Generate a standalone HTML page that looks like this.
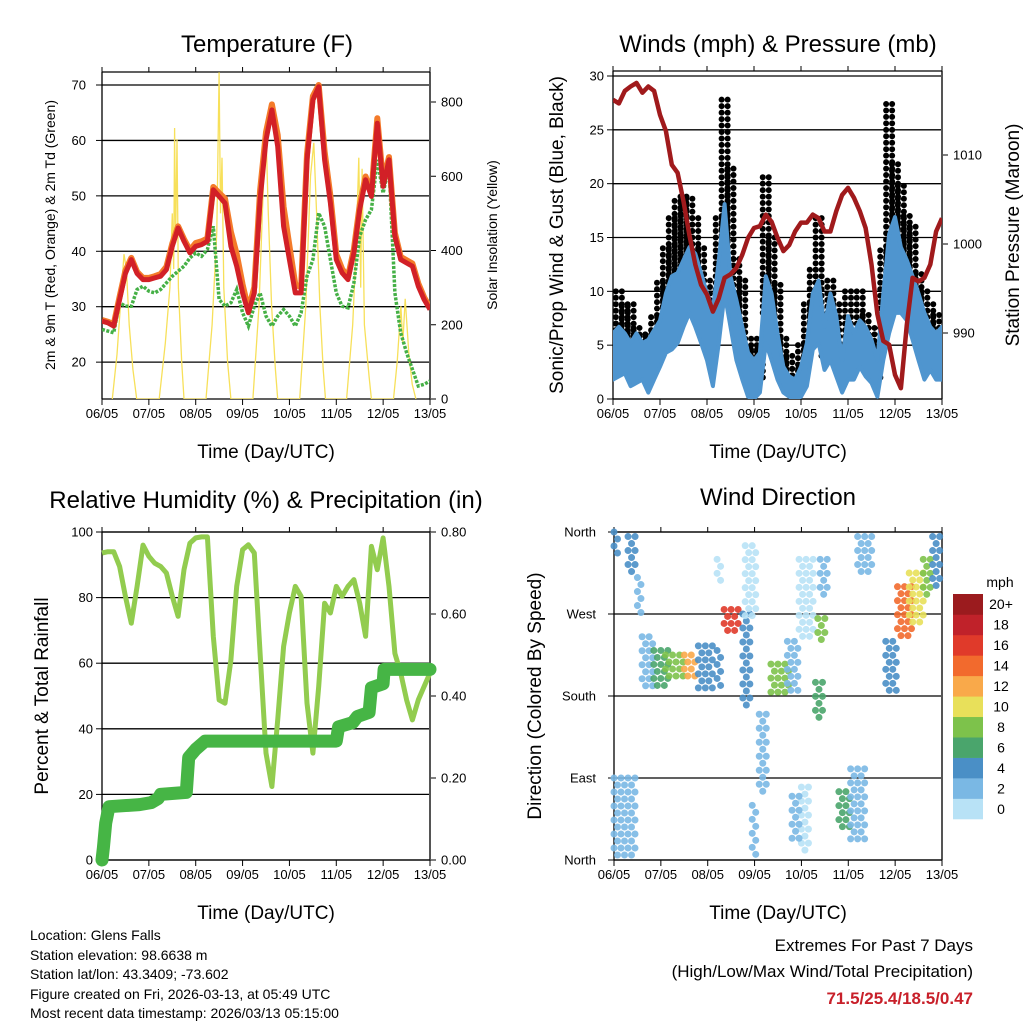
<!DOCTYPE html>
<html><head><meta charset="utf-8"><style>
body{margin:0;background:#fff;width:1024px;height:1024px;overflow:hidden;font-family:"Liberation Sans",sans-serif}
svg text{font-family:"Liberation Sans",sans-serif;fill:#000}
</style></head><body>
<svg id="s" width="1024" height="1024" viewBox="0 0 1024 1024" xmlns="http://www.w3.org/2000/svg">
<text x="267" y="52" font-size="24" text-anchor="middle">Temperature (F)</text>
<text x="778" y="52" font-size="24" text-anchor="middle">Winds (mph) &amp; Pressure (mb)</text>
<text x="266" y="508" font-size="24" text-anchor="middle">Relative Humidity (%) &amp; Precipitation (in)</text>
<text x="778" y="505" font-size="24" text-anchor="middle">Wind Direction</text>
<text x="266" y="458" font-size="19" text-anchor="middle">Time (Day/UTC)</text>
<text x="778" y="458" font-size="19" text-anchor="middle">Time (Day/UTC)</text>
<text x="266" y="919" font-size="19" text-anchor="middle">Time (Day/UTC)</text>
<text x="778" y="919" font-size="19" text-anchor="middle">Time (Day/UTC)</text>
<text transform="translate(55,235) rotate(-90)" font-size="14" text-anchor="middle">2m &amp; 9m T (Red, Orange) &amp; 2m Td (Green)</text>
<text transform="translate(497,235) rotate(-90)" font-size="14" text-anchor="middle">Solar Insolation (Yellow)</text>
<text transform="translate(563,235) rotate(-90)" font-size="19" text-anchor="middle">Sonic/Prop Wind &amp; Gust (Blue, Black)</text>
<text transform="translate(1019,235) rotate(-90)" font-size="19" text-anchor="middle">Station Pressure (Maroon)</text>
<text transform="translate(48,696) rotate(-90)" font-size="19" text-anchor="middle">Percent &amp; Total Rainfall</text>
<text transform="translate(541,696) rotate(-90)" font-size="19" text-anchor="middle">Direction (Colored By Speed)</text>
<g font-size="14">
<text x="30" y="940">Location: Glens Falls</text>
<text x="30" y="960">Station elevation: 98.6638 m</text>
<text x="30" y="979">Station lat/lon: 43.3409; -73.602</text>
<text x="30" y="999">Figure created on Fri, 2026-03-13, at 05:49 UTC</text>
<text x="30" y="1018">Most recent data timestamp: 2026/03/13 05:15:00</text>
</g>
<text x="973" y="951" font-size="17" text-anchor="end">Extremes For Past 7 Days</text>
<text x="973" y="977" font-size="17" text-anchor="end">(High/Low/Max Wind/Total Precipitation)</text>
<text x="973" y="1004" font-size="17" font-weight="bold" text-anchor="end" style="fill:#c8202a">71.5/25.4/18.5/0.47</text>
<text x="1000" y="587" font-size="14" text-anchor="middle">mph</text>
</svg>
<script>
const days=["06/05","07/05","08/05","09/05","10/05","11/05","12/05","13/05"];
const tempRed=[27.4,27.1,26.5,31.3,36,38.5,36,34.9,34.9,35.2,35.5,36.7,40.9,44.2,41.8,39.7,40.9,41.2,41.8,51.1,49.9,48.7,40.9,37.3,32.5,28.9,32.5,49.3,60.1,65.5,58.9,44.5,38.5,32.5,32.5,56.5,67.3,69.7,56.5,48.7,38.5,36.1,34.9,39.7,47.5,52.9,49.9,63.1,51.7,56.5,42.7,38.5,37.9,37.3,33.7,31.3,29.5];
const tempOrange=[27.6,27.3,26.8,31.8,36.5,38.8,36.3,35.2,35.2,35.5,35.9,37.2,41.4,44.5,42.2,40.2,41.5,41.8,42.3,51.6,50.5,49.5,43.5,39.5,34,29.5,33.5,51,61.5,66.5,61,48,41,34,33.5,57.5,68,70,58,50,39.5,36.8,35.4,40.4,48.3,53.5,50.5,64,52.5,57,43.3,39,38.4,37.8,34.2,31.7,29.8];
const tempDew=[25.9,25.6,25.3,30.7,30.1,30.1,33.1,33.7,32.8,32.5,33.1,34.3,35.5,36.4,37.3,38.8,39.7,39.1,40.3,44.5,31.3,30.1,30.7,33.1,28.9,26.5,30.1,32.5,28.3,26.5,28.3,29.5,28.3,26.5,28.9,35.5,38.5,46.9,44.5,38.5,32.5,30.1,29.8,34.3,42.7,45.7,47.5,56.5,50.5,55.3,32.5,25.3,21.7,18.7,15.7,16,16.6];
const solarT=[0.22,0.32,0.42,0.47,0.52,0.58,0.66,0.74,1.22,1.35,1.45,1.5,1.53,1.55,1.57,1.6,1.63,1.7,1.75,2.22,2.35,2.45,2.5,2.53,2.56,2.6,2.68,2.75,3.22,3.35,3.45,3.5,3.55,3.62,3.7,3.75,4.22,4.35,4.45,4.52,4.58,4.65,4.72,4.77,5.22,5.35,5.42,5.48,5.52,5.55,5.6,5.7,5.75,6.22,6.3,6.38,6.42,6.47,6.55,6.62,6.7];
const solarV=[0,120,300,390,350,200,80,0,0,150,300,500,350,730,420,700,300,100,0,0,200,450,880,500,650,300,100,0,0,250,600,720,500,250,80,0,0,250,600,690,500,250,80,0,0,200,400,650,300,620,200,60,0,0,100,250,150,270,120,40,0];
const pressure=[1016.2,1015.8,1017.2,1017.7,1018.1,1017,1017.7,1017.2,1014.5,1012.7,1008.9,1008,1004.8,1001,997.7,995.4,994.3,992.4,993.9,996.2,996.6,997.3,998.8,1000.7,1001.8,1002,1003.3,1002.5,1000.7,999.2,999.9,1001.4,1002.4,1002.4,1003.3,1002.9,1001.4,1001.4,1003.7,1005.5,1006.3,1005.2,1003.7,1001.8,997.7,992.1,989.1,988.7,985.3,983.8,990.9,996.2,995.8,996.2,997.7,1001.4,1002.9];
const windLo=[1.8,2.1,2.4,1.2,1.5,1.8,0.6,1.8,3,4.3,4.6,5.2,6.7,8,6.7,5.2,3.6,1.2,5.2,9.8,6.7,3.6,1.8,0.2,0,0.6,5.2,3.6,1.8,0.6,0.2,0,0.2,1.2,4.6,5.2,2.7,3.6,2.1,0.6,1.8,1.8,3,2.1,1.5,0.2,3.6,6.1,8,8,7.3,5.5,3.6,1.8,2.7,1.8,1.8];
const windHi=[6.1,6.7,6.1,5.2,6.1,5.2,5.5,6.4,7.3,9.8,11.4,11.7,12.9,14.1,13.5,11.7,9.8,8.3,12.9,18.1,11.4,9.2,6.7,4.3,3.6,4.3,11.4,9.8,6.1,3,2.1,1.8,3,5.2,9.8,11,6.7,9.8,7.7,3.6,7.7,6.1,7.3,6.7,5.5,3.6,9.8,15.3,16.9,14.1,12.9,11.4,9.8,8,6.7,6.1,6.7];
const gustLo=[4,4,5,4,3,4,3,4,6,8,9,10,11,9,9,8,5,5,9,14,10,7,5,2,1,2,8,6,4,2,1,1,2,4,6,6,4,5,4,2,4,3,4,3,3,2,6,10,11,9,8,7,5,4,4,3,3];
const gustHi=[7,10,9,9,7,6,6,8,11,14,17,19,19,19,17,14,11,9,17,28,22,13,11,6,5,6,21,15,11,6,4,3,5,9,12,17,8,11,9,5,10,6,10,8,7,5,14,28,22,20,17,16,12,10,9,8,7];
const rh=[93.6,94,94,89.5,80.4,72.2,83.4,96,92.6,90.5,89.5,87.5,80.4,74.3,88.5,96.6,98.2,98.5,98.5,68.2,48.8,47.8,61,83.4,94.6,96.1,93.6,63,32.6,22.4,42.7,65.1,75.3,83.4,80.4,47.8,32.6,52.9,78.3,75.3,83.4,80.4,83.4,85.5,78.3,68.2,95.6,88.5,98.2,83.4,63,57,48.8,42.7,48.8,52.9,57];
const precipT=[0,0.03,0.08,0.15,0.8,1.05,1.2,1.25,1.8,1.85,2.0,2.2,5.0,5.05,5.35,5.45,5.7,5.75,6.0,6.02,7];
const precipV=[0,0.03,0.09,0.13,0.135,0.14,0.15,0.16,0.165,0.25,0.27,0.29,0.29,0.325,0.335,0.35,0.36,0.42,0.43,0.465,0.465];
const dirDay0=[0.0,0.3,0.5,0.6,0.85,1.1,1.5,1.8,2.2,2.2,2.35,2.75,2.8,3.1,3.35,3.7,3.95,4.0,4.35,4.3,4.4,4.8,5.05,5.2,5.8,6.05,6.3,6.6,6.8,0.0,2.95,3.8];
const dirDay1=[0.1,0.45,0.58,0.85,1.2,1.5,1.75,2.1,2.3,2.28,2.7,2.95,3.05,3.3,3.75,3.95,4.25,4.2,4.55,4.5,4.55,5.05,5.4,5.5,6.05,6.4,6.6,6.8,7.0,0.45,3.05,4.0];
const dirLo=[330,315,270,185,190,195,200,185,190,300,245,165,265,70,180,185,240,10,240,150,290,30,20,310,180,240,260,290,300,0,0,20];
const dirHi=[360,355,310,245,230,225,225,235,230,330,275,270,345,160,215,240,330,80,265,195,330,75,100,355,240,300,315,330,355,90,60,70];
const dirSpeed=[4,4,2,2,6,9,13,5,4,1,17,4,1,2,9,2,1,1,8,6,3,7,3,3,5,15,11,8,5,3,2,2];
const cbColors=["#b8e2f6","#7ab8e4","#4a8fc6","#4aa56c","#7dc24b","#e8e05a","#f9a94a","#f26a2d","#e03a2a","#c0222a","#9b1b1e"];
const cbLabels=["0","2","4","6","8","10","12","14","16","18","20+"];

const S=document.getElementById('s');
const NS="http://www.w3.org/2000/svg";
function mk(tag,attrs,parent){const e=document.createElementNS(NS,tag);for(const k in attrs)e.setAttribute(k,attrs[k]);(parent||S).appendChild(e);return e;}
function lin(d0,d1,r0,r1){return v=>r0+(v-d0)/(d1-d0)*(r1-r0);}
const idx=i=>i*0.125;

function panel(name,L,R,T,B,yl,yMin,yMax,leftTicks,leftFmt,rightTicks,rightY,rightFmt,lblOff){
  const g=mk('g',{});
  
  
  const x=lin(0,7,L,R);
  const y=lin(yMin,yMax,B,yl);
  const off=lblOff||9;
  leftTicks.forEach(v=>{
    const gl=mk('line',{x1:L,x2:R,y1:y(v),y2:y(v),stroke:'#000','stroke-width':1.3},g);
    
    
    mk('line',{x1:L-6,x2:L,y1:y(v),y2:y(v),stroke:'#000'},g);
    const t=mk('text',{x:L-off,y:y(v)+4.5,'font-size':13,'text-anchor':'end'},g);
    t.textContent=leftFmt(v);
    
    
  });
  if(rightTicks&&rightY){rightTicks.forEach(v=>{
    const yy=rightY(v);
    mk('line',{x1:R,x2:R+6,y1:yy,y2:yy,stroke:'#000'},g);
    const t=mk('text',{x:R+11,y:yy+4.5,'font-size':13},g);
    t.textContent=rightFmt(v);
    
    
  });}
  days.forEach((d,i)=>{
    mk('line',{x1:x(i),x2:x(i),y1:B,y2:B+6,stroke:'#000'},g);
    mk('line',{x1:x(i),x2:x(i),y1:T,y2:T-5,stroke:'#000'},g);
    const t=mk('text',{x:x(i),y:B+19,'font-size':13,'text-anchor':'middle'},g);
    t.textContent=d;
    
    
  });
  mk('line',{x1:L,x2:L,y1:T,y2:B,stroke:'#000','stroke-width':1.3},g);
  mk('line',{x1:R,x2:R,y1:T,y2:B,stroke:'#555','stroke-width':2},g);
  mk('line',{x1:L,x2:R,y1:T,y2:T,stroke:'#000','stroke-width':1.3},g);
  mk('line',{x1:L,x2:R,y1:B,y2:B,stroke:'#000','stroke-width':1.3},g);
  return {x,y};
}
function path(pts){return pts.map((p,i)=>(i?'L':'M')+p[0].toFixed(1)+','+p[1].toFixed(1)).join('');}

// Temperature
{
 const L=102,R=430,T=72,B=399;
 const ys=lin(0,800,B,102);
 const a=panel('temperature',L,R,T,B,85,13.35,70,[20,30,40,50,60,70],v=>v,[0,200,400,600,800],ys,v=>v,16);
 const cl=mk('clipPath',{id:'c1'});mk('rect',{x:L,y:T,width:R-L,height:B-T},cl);
 const g=mk('g',{'clip-path':'url(#c1)'});
 const sol=mk('path',{d:path(solarT.map((t,i)=>[a.x(t),ys(solarV[i])])),fill:'none',stroke:'#f7e05a','stroke-width':1.3},g);
 
 
 const dw=mk('path',{d:path(tempDew.map((v,i)=>[a.x(idx(i)),a.y(v)])),fill:'none',stroke:'#45b046','stroke-width':3.5,'stroke-dasharray':'3 1.5'},g);
 
 
 const or=mk('path',{d:path(tempOrange.map((v,i)=>[a.x(idx(i)),a.y(v)])),fill:'none',stroke:'#f47b2a','stroke-width':6,'stroke-linejoin':'round'},g);
 
 
 const rd=mk('path',{d:path(tempRed.map((v,i)=>[a.x(idx(i)),a.y(v)])),fill:'none',stroke:'#d22027','stroke-width':5,'stroke-linejoin':'round'},g);
 
 
}
// Winds
{
 const L=613,R=942,T=71,B=399;
 const yp=lin(990,1010,333,155);
 const a=panel('winds',L,R,T,B,76,0,30,[0,5,10,15,20,25,30],v=>v,[990,1000,1010],yp,v=>v);
 const cl=mk('clipPath',{id:'c2'});mk('rect',{x:L,y:T,width:R-L,height:B-T},cl);
 const g=mk('g',{'clip-path':'url(#c2)'});
 gustLo.forEach((lo,i)=>{
  const xx=a.x(idx(i));
  for(let v=lo;v<=gustHi[i];v+=0.6){
   [-3,3].forEach(dx=>{
    const c=mk('circle',{cx:xx+dx,cy:a.y(v),r:3,fill:'#000'},g);
    
    
   });
  }
 });
 const band=windHi.map((v,i)=>[a.x(idx(i)),a.y(v)]).concat(windLo.map((v,i)=>[a.x(idx(i)),a.y(v)]).reverse());
 const wb=mk('path',{d:path(band)+'Z',fill:'#4f95cf',stroke:'#4f95cf','stroke-width':4,'stroke-linejoin':'round'},g);
 
 
 const pp=mk('path',{d:path(pressure.map((v,i)=>[a.x(idx(i)),yp(v)])),fill:'none',stroke:'#a01a1c','stroke-width':4.5,'stroke-linejoin':'round'},g);
 
 
}
// RH
{
 const L=102,R=430,T=532,B=860;
 const yr=lin(0,0.8,860,532);
 const a=panel('humidity',L,R,T,B,532,0,100,[0,20,40,60,80,100],v=>v,[0,0.2,0.4,0.6,0.8],yr,v=>v.toFixed(2));
 const rl=mk('path',{d:path(rh.map((v,i)=>[a.x(idx(i)),a.y(v)])),fill:'none',stroke:'#92cc4f','stroke-width':5,'stroke-linejoin':'round'});
 
 
 const pts=[];precipT.forEach((t,i)=>{pts.push([a.x(t),yr(precipV[i])]);});
 const pl=mk('path',{d:path(pts),fill:'none',stroke:'#46b545','stroke-width':13,'stroke-linejoin':'round','stroke-linecap':'round'});
 
 
}
// Wind direction
{
 const L=614,R=942,T=532,B=860;
 const a=panel('direction',L,R,T,B,532,0,360,[0,90,180,270,360],v=>'',null,null,null);
 const names={0:'North',90:'East',180:'South',270:'West',360:'North'};
 [0,90,180,270,360].forEach(v=>{
  const t=mk('text',{x:596,y:a.y(v)+4.5,'font-size':13,'text-anchor':'end'});
  t.textContent=names[v];
  
  
 });
 const cl=mk('clipPath',{id:'c4'});mk('rect',{x:L-4,y:T-4,width:R-L+8,height:B-T+8},cl);
 const g=mk('g',{'clip-path':'url(#c4)'});
 dirDay0.forEach((d0,i)=>{
  const col=cbColors[Math.min(10,Math.floor(dirSpeed[i]/2))];
  const x0=a.x(d0),x1=a.x(dirDay1[i]),y0=a.y(dirHi[i]),y1=a.y(dirLo[i]);
  let row=0;
  for(let yy=y0;yy<=y1;yy+=7,row++){
   for(let xx=x0+(row%2)*3.5;xx<=x1;xx+=7){
    const c=mk('circle',{cx:xx,cy:yy,r:3.5,fill:col,'fill-opacity':0.9},g);
    
    
   }
  }
 });
 const cb=mk('g',{});
 
 
 const top=594,h=225/11;
 cbColors.forEach((c,i)=>{
  const yy=top+(10-i)*h;
  const r=mk('rect',{x:953,y:yy,width:30,height:h+0.3,fill:c},cb);
  
  
  const t=mk('text',{x:1001,y:yy+h/2+5,'font-size':14,'text-anchor':'middle'},cb);
  t.textContent=cbLabels[i];
  
  
 });
}
</script>
</body></html>
